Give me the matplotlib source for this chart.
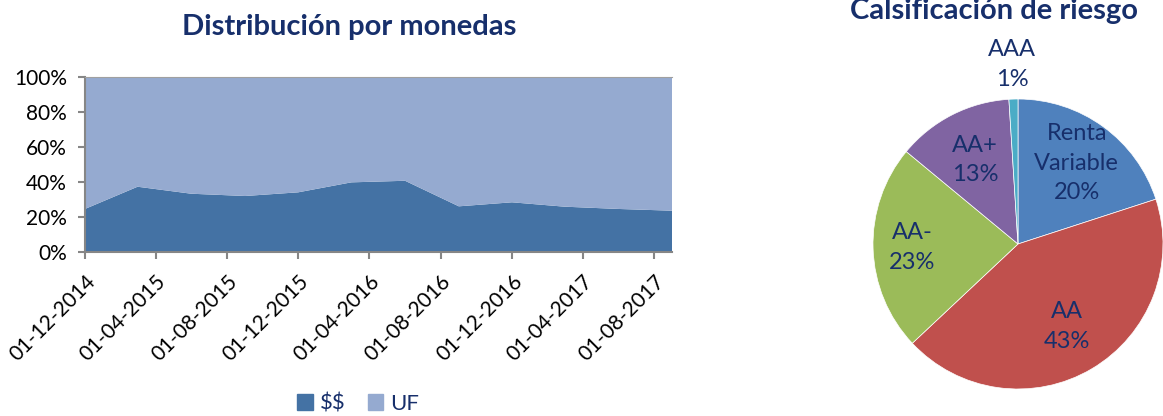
import numpy as np
import pandas as pd
import matplotlib
matplotlib.use('Agg')
import matplotlib.pyplot as plt
from matplotlib.patches import Patch

plt.rcParams['font.family'] = ['Lato', 'DejaVu Sans']
plt.rcParams['text.parse_math'] = False

# --- data ---
fechas = ['01-12-2014', '01-03-2015', '01-06-2015', '01-09-2015', '01-12-2015', '01-03-2016',
          '01-06-2016', '01-09-2016', '01-12-2016', '01-03-2017', '01-06-2017', '01-09-2017']
pesos = [24.6, 37.3, 33.3, 32.0, 34.1, 39.8, 40.7, 26.1, 28.4, 25.9, 24.6, 23.6]
uf = [100 - p for p in pesos]
tick_fechas = ['01-12-2014', '01-04-2015', '01-08-2015', '01-12-2015', '01-04-2016',
               '01-08-2016', '01-12-2016', '01-04-2017', '01-08-2017']
yticks = [0, 20, 40, 60, 80, 100]

riesgo_labels = ['Renta\nVariable', 'AA', 'AA-', 'AA+', 'AAA']
riesgo_vals = [20, 43, 23, 13, 1]
riesgo_colors = ['#4F81BD', '#C0504D', '#9BBB59', '#8064A2', '#4BACC6']

navy = '#172f6b'
gray = '#868686'

fig = plt.figure(figsize=(11.63, 4.16), dpi=100)

# --- area chart ---
ax = fig.add_axes([85/1163, 1 - 252/416, (672-85)/1163, (252-77)/416])
x = pd.to_datetime(fechas, format='%d-%m-%Y')
ax.stackplot(x, pesos, uf, colors=['#4472A4', '#95AAD0'], linewidth=0)
ax.set_xlim(x[0], x[-1])
ax.set_ylim(0, 100)
xt = pd.to_datetime(tick_fechas, format='%d-%m-%Y')
ax.set_xticks(xt)
ax.set_xticklabels(tick_fechas, rotation=45, ha='right', rotation_mode='anchor')
ax.set_yticks(yticks)
ax.set_yticklabels([f'{v}%' for v in yticks])
ax.tick_params(axis='both', labelsize=15, color=gray, length=5, width=1.5, direction='out')
ax.tick_params(axis='x', pad=9)
ax.tick_params(axis='y', pad=8)
ax.spines['right'].set_visible(False)
ax.spines['top'].set_color('#A0A0A0')
ax.spines['left'].set_color(gray)
ax.spines['bottom'].set_color(gray)
ax.spines['left'].set_linewidth(1.5)
ax.spines['bottom'].set_linewidth(1.5)

fig.text(349/1163, 1 - 27/416, 'Distribución por monedas', ha='center', va='center',
         fontsize=21, fontweight='bold', color=navy)

fig.legend(handles=[Patch(color='#4472A4', label='$$'), Patch(color='#95AAD0', label='UF')],
           loc='center', bbox_to_anchor=(358/1163, 1 - 404/416), ncol=2, frameon=False,
           fontsize=16, handlelength=0.7, handleheight=0.7, handletextpad=0.3,
           columnspacing=1.0, labelcolor=navy)

# --- pie chart ---
pax = fig.add_axes([873/1163, 1 - 389/416, 290/1163, 290/416])
wedges, _ = pax.pie(riesgo_vals, colors=riesgo_colors, startangle=90, counterclock=False,
                    wedgeprops=dict(edgecolor='white', linewidth=0.5))
pax.set_xlim(-1, 1)
pax.set_ylim(-1, 1)
pax.set_aspect('equal')
rdist = [0.69, 0.66, 0.73, 0.65, 1.24]
for w, lab, v, r in zip(wedges, riesgo_labels, riesgo_vals, rdist):
    ang = np.deg2rad((w.theta1 + w.theta2) / 2)
    pax.text(r * np.cos(ang), r * np.sin(ang), f'{lab}\n{v}%', ha='center', va='center',
             fontsize=17, color=navy, linespacing=1.5)

fig.text(994/1163, 1 - 11/416, 'Calsificación de riesgo', ha='center', va='center',
         fontsize=21, fontweight='bold', color=navy)

fig.savefig('out.png', dpi=100)
